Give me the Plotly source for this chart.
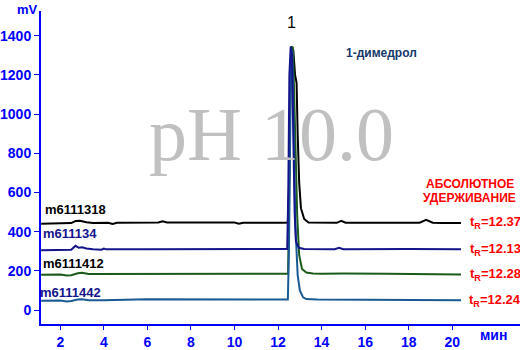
import plotly.graph_objects as go

# ---------------- data ----------------
names = ["m6111318", "m611134", "m6111412", "m6111442"]
tr_labels = ["12.37", "12.13", "12.28", "12.24"]

t_black = [1.12, 2.0, 2.5, 2.7, 2.9, 3.2, 3.5, 4.2, 4.4, 4.6, 6.5, 6.7, 6.9, 8.5, 10.0, 10.2, 10.4,
           12.3, 12.45, 12.52, 12.58, 12.64, 12.7, 12.78, 12.85, 12.9, 12.97, 13.05, 13.2, 13.4,
           14.7, 14.9, 15.1, 18.5, 18.8, 19.1, 19.5, 20.4]
v_black = [441, 442, 444, 454, 456, 448, 444, 446, 440, 446, 447, 453, 447, 447, 447, 441, 446,
           446, 447, 700, 1250, 1330, 1325, 1200, 1160, 900, 650, 520, 465, 447,
           445, 455, 446, 446, 460, 446, 444, 444]

t_navy = [1.12, 2.0, 2.5, 2.7, 2.85, 3.0, 3.2, 3.5, 3.9, 4.0, 4.1, 6.0, 9.0, 12.0, 12.42, 12.47, 12.52,
          12.58, 12.64, 12.7, 12.76, 12.82, 12.95, 13.2, 14.6, 14.8, 15.0, 18.0, 20.4]
v_navy = [305, 306, 308, 328, 318, 320, 314, 310, 308, 314, 310, 311, 312, 312, 312, 600, 1200,
          1345, 1300, 900, 500, 350, 318, 312, 311, 318, 311, 312, 311]

t_green = [1.12, 2.0, 2.3, 2.5, 2.8, 3.0, 3.3, 4.0, 6.0, 8.0, 9.0, 11.0, 12.46, 12.5, 12.56, 12.62,
           12.68, 12.74, 12.8, 12.88, 12.97, 13.1, 13.3, 13.6, 14.0, 15.0, 17.0, 19.5, 19.8, 20.4]
v_green = [180, 181, 176, 178, 188, 190, 184, 184, 186, 186, 184, 186, 186, 500, 1150, 1345,
           1340, 1100, 800, 480, 280, 210, 192, 187, 186, 187, 185, 183, 180, 182]

t_steel = [1.12, 2.0, 2.3, 2.5, 2.8, 3.0, 3.3, 4.0, 6.0, 8.0, 9.0, 9.3, 11.0, 12.45, 12.5, 12.55,
           12.6, 12.65, 12.72, 12.8, 12.9, 13.0, 13.15, 13.3, 13.8, 15.0, 17.0, 19.5, 19.8, 20.4]
v_steel = [48, 49, 44, 46, 54, 55, 50, 50, 55, 55, 53, 55, 55, 54, 300, 1000,
           1330, 1320, 800, 420, 180, 100, 65, 56, 54, 53, 52, 50, 48, 50]

x_ticks = [2, 4, 6, 8, 10, 12, 14, 16, 18, 20]
y_ticks = [0, 200, 400, 600, 800, 1000, 1200, 1400]

BLUE = "#0000ff"
RED = "#ff0000"
C_BLACK = "#000000"
C_NAVY = "#14148c"
C_GREEN = "#1a5a1a"
C_STEEL = "#1a5a94"
FONT = "Liberation Sans, Arial"

fig = go.Figure()
series = [
    (t_black, v_black, C_BLACK),
    (t_green, v_green, C_GREEN),
    (t_steel, v_steel, C_STEEL),
    (t_navy, v_navy, C_NAVY),
]
for t, v, c in series:
    fig.add_trace(go.Scatter(x=t, y=v, mode="lines", line=dict(color=c, width=2),
                             hoverinfo="skip", showlegend=False))

# plot-area pixel geometry helpers (for annotation placement)
L, R, T, B = 36, 520, 11, 327


def px(xp):
    return (xp - L) / (R - L)


def py(yp):
    return (B - yp) / (B - T)


def note(xp, yp, text, size, color, xanchor="center", bold=True, family=FONT):
    f = dict(family=family, size=size, color=color)
    if bold:
        f["weight"] = "bold"
    return dict(x=px(xp), y=py(yp), xref="paper", yref="paper", text=text, showarrow=False,
                xanchor=xanchor, yanchor="middle", font=f)


ann = []
# watermark (first, so other texts sit above it)
ann.append(note(269, 135, "pH 10.0", 76, "#c0c0c0", bold=False,
                family="Liberation Serif, Times New Roman"))
# trace labels
lab_pos = [(38, 211, C_BLACK), (36, 236, C_NAVY), (36, 266, C_BLACK), (33, 295, C_NAVY)]
for name, (xp, yp, c) in zip(names, lab_pos):
    ann.append(note(xp, yp, name, 13, c, xanchor="left"))
# retention labels
tr_y = [225, 252, 277, 303]
for lab, yp in zip(tr_labels, tr_y):
    ann.append(note(523, yp, "t<sub>R</sub>=" + lab, 13, RED, xanchor="right"))
ann.append(note(469, 186, "АБСОЛЮТНОЕ", 12, RED))
ann.append(note(469, 200, "УДЕРЖИВАНИЕ", 12, RED))
# peak label and compound
ann.append(note(289, 23, "1", 16, "#000000", bold=False))
ann.append(note(380, 53, "1-димедрол", 12, "#14386a"))
# axis titles
ann.append(note(22, 9, "mV", 13, BLUE))
ann.append(note(493, 338, "мин", 14, BLUE))

fig.update_layout(
    width=520, height=350,
    margin=dict(l=L, r=520 - R, t=T, b=350 - B),
    paper_bgcolor="white", plot_bgcolor="white",
    annotations=ann,
    xaxis=dict(range=[1.114, 23.11], tickvals=x_ticks, showgrid=False, zeroline=False,
               showline=True, linecolor=BLUE, linewidth=2, ticks="outside", ticklen=4,
               tickcolor=BLUE, tickwidth=1,
               tickfont=dict(family=FONT, size=14, color=BLUE, weight="bold")),
    yaxis=dict(range=[-71, 1526], tickvals=y_ticks, showgrid=False, zeroline=False,
               showline=True, linecolor=BLUE, linewidth=2, ticks="outside", ticklen=5,
               tickcolor=BLUE, tickwidth=1,
               tickfont=dict(family=FONT, size=14, color=BLUE, weight="bold")),
)

fig.write_html("out.html")
